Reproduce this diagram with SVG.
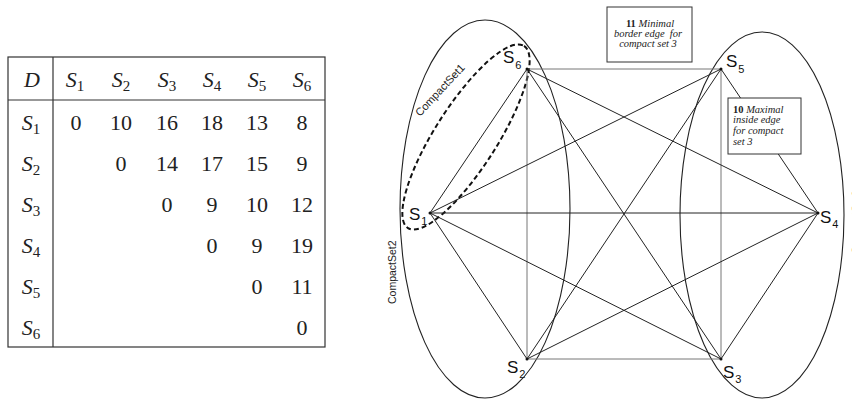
<svg xmlns="http://www.w3.org/2000/svg" width="852" height="402" viewBox="0 0 852 402">
<style>
.tbl{fill:none;stroke:#333;stroke-width:1.2}
.cm{font-family:"Liberation Serif",serif;font-size:22px;fill:#222}
.it{font-style:italic}
.sub{font-size:15px;font-style:normal}
.e{stroke:#222;stroke-width:1;fill:none}
.ea{stroke:#777;stroke-width:1;fill:none}
.ell{fill:none;stroke:#222;stroke-width:1.1}
.dash{fill:none;stroke:#111;stroke-width:2;stroke-dasharray:5 3}
.lab{font-family:"Liberation Sans",Arial,sans-serif;font-size:17px;fill:#111}
.ls{font-size:11px}
.cs{font-family:"Liberation Sans",Arial,sans-serif;font-size:10.5px;fill:#222}
.box{fill:#fff;stroke:#333;stroke-width:1}
.bt{font-family:"Liberation Serif",serif;font-size:10.5px;font-style:italic;fill:#222}
.b{font-weight:bold;font-style:normal}
.dot{fill:#111}
</style>
<rect width="852" height="402" fill="#fff"/>
<g id="table">
<rect class="tbl" x="8" y="57" width="317" height="290"/>
<line class="tbl" x1="53" y1="57" x2="53" y2="347"/>
<line class="tbl" x1="8" y1="100" x2="325" y2="100"/>
<g class="cm" text-anchor="middle">
<text class="it" x="32" y="87">D</text>
<text class="it" x="75" y="87">S<tspan class="sub" dy="4">1</tspan></text>
<text class="it" x="121" y="87">S<tspan class="sub" dy="4">2</tspan></text>
<text class="it" x="167" y="87">S<tspan class="sub" dy="4">3</tspan></text>
<text class="it" x="212" y="87">S<tspan class="sub" dy="4">4</tspan></text>
<text class="it" x="257" y="87">S<tspan class="sub" dy="4">5</tspan></text>
<text class="it" x="302" y="87">S<tspan class="sub" dy="4">6</tspan></text>
<text class="it" x="31" y="130">S<tspan class="sub" dy="4">1</tspan></text>
<text class="it" x="31" y="171">S<tspan class="sub" dy="4">2</tspan></text>
<text class="it" x="31" y="212">S<tspan class="sub" dy="4">3</tspan></text>
<text class="it" x="31" y="253">S<tspan class="sub" dy="4">4</tspan></text>
<text class="it" x="31" y="294">S<tspan class="sub" dy="4">5</tspan></text>
<text class="it" x="31" y="335">S<tspan class="sub" dy="4">6</tspan></text>
<text x="76" y="130">0</text><text x="121" y="130">10</text><text x="167" y="130">16</text><text x="212" y="130">18</text><text x="257" y="130">13</text><text x="302" y="130">8</text>
<text x="121" y="171">0</text><text x="167" y="171">14</text><text x="212" y="171">17</text><text x="257" y="171">15</text><text x="302" y="171">9</text>
<text x="167" y="212">0</text><text x="212" y="212">9</text><text x="257" y="212">10</text><text x="302" y="212">12</text>
<text x="212" y="253">0</text><text x="257" y="253">9</text><text x="302" y="253">19</text>
<text x="257" y="294">0</text><text x="302" y="294">11</text>
<text x="302" y="335">0</text>
</g>
</g>
<g id="compact-sets">
<ellipse class="ell" cx="485" cy="209" rx="85" ry="189"/>
<ellipse class="ell" cx="762" cy="215" rx="82" ry="183"/>
<ellipse class="dash" cx="466" cy="137" rx="108" ry="31" transform="rotate(-57.5 466 137)"/>
<text class="cs" style="font-size:11px" transform="translate(420 117) rotate(-47)">CompactSet1</text>
<text class="cs" transform="translate(396 304) rotate(-90)">CompactSet2</text>
<text class="cs" transform="translate(860 254) rotate(-90)">CompactSet3</text>
</g>
<g id="connectors">
<line class="ea" x1="527" y1="69" x2="721" y2="69"/>
<line class="ea" x1="527" y1="359" x2="721" y2="359"/>
<line class="ea" x1="527" y1="69" x2="527" y2="359"/>
<line class="ea" x1="721" y1="69" x2="721" y2="359"/>
<line class="e" x1="430" y1="213" x2="818" y2="213"/>
<line class="e" x1="527" y1="69" x2="721" y2="359"/>
<line class="e" x1="721" y1="69" x2="527" y2="359"/>
<line class="e" x1="430" y1="213" x2="527" y2="69"/>
<line class="e" x1="430" y1="213" x2="721" y2="69"/>
<line class="e" x1="430" y1="213" x2="527" y2="359"/>
<line class="e" x1="430" y1="213" x2="721" y2="359"/>
<line class="e" x1="818" y1="213" x2="721" y2="69"/>
<line class="e" x1="818" y1="213" x2="527" y2="69"/>
<line class="e" x1="818" y1="213" x2="527" y2="359"/>
<line class="e" x1="818" y1="213" x2="721" y2="359"/>
</g>
<g id="S1"><circle class="dot" cx="430" cy="213" r="1.5"/><text class="lab" x="409" y="220">S<tspan class="ls" dx="1" dy="5">1</tspan></text></g>
<g id="S2"><circle class="dot" cx="527" cy="359" r="1.5"/><text class="lab" x="507" y="373">S<tspan class="ls" dx="1" dy="5">2</tspan></text></g>
<g id="S3"><circle class="dot" cx="721" cy="359" r="1.5"/><text class="lab" x="723" y="378">S<tspan class="ls" dx="1" dy="5">3</tspan></text></g>
<g id="S4"><circle class="dot" cx="818" cy="213" r="1.5"/><text class="lab" x="820" y="223">S<tspan class="ls" dx="1" dy="5">4</tspan></text></g>
<g id="S5"><circle class="dot" cx="721" cy="69" r="1.5"/><text class="lab" x="726" y="67">S<tspan class="ls" dx="1" dy="6">5</tspan></text></g>
<g id="S6"><circle class="dot" cx="527" cy="69" r="1.5"/><text class="lab" x="503" y="63">S<tspan class="ls" dx="1" dy="6">6</tspan></text></g>
<g id="note-minimal">
<rect class="box" x="607" y="7" width="85" height="55"/>
<text class="bt" text-anchor="middle" x="650" y="27"><tspan class="b">11</tspan>  Minimal</text>
<text class="bt" text-anchor="middle" x="648" y="37" xml:space="preserve">border edge  for</text>
<text class="bt" text-anchor="middle" x="648" y="47">compact set 3</text>
</g>
<g id="note-maximal">
<rect class="box" x="728" y="98" width="73" height="56"/>
<text class="bt" x="733" y="113"><tspan class="b">10</tspan>  Maximal</text>
<text class="bt" x="733" y="123">inside edge</text>
<text class="bt" x="733" y="134">for compact</text>
<text class="bt" x="733" y="145">set 3</text>
</g>
</svg>
